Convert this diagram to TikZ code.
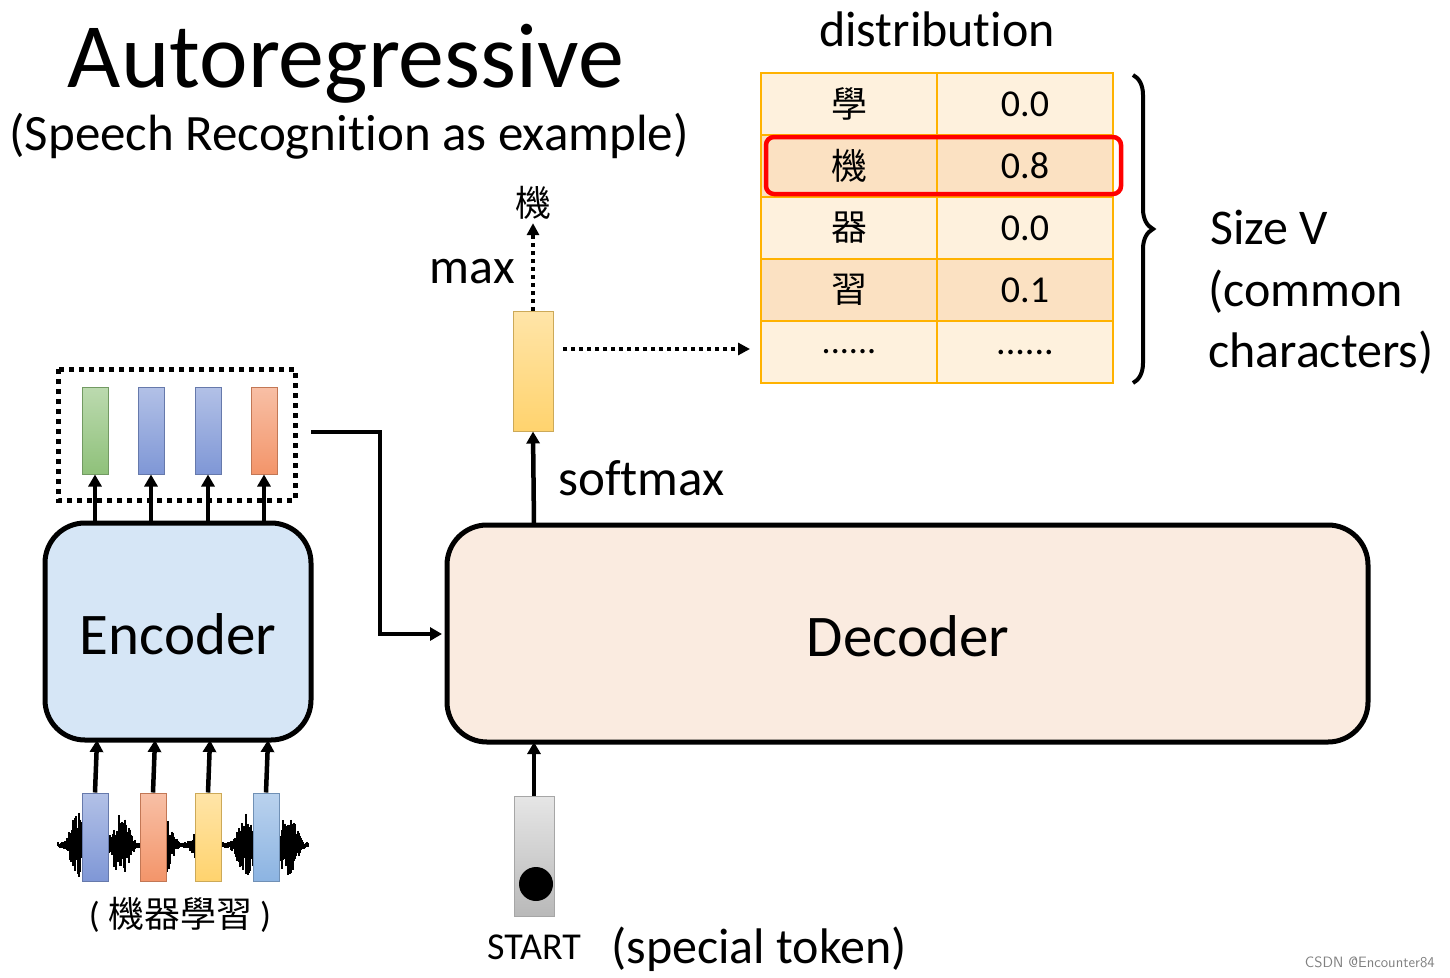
\documentclass[tikz,border=0pt]{standalone}
\usepackage{fontspec}
\setmainfont{Carlito}[Ligatures={NoCommon}]
\newfontfamily\cjk{Noto Sans CJK TC}
\usetikzlibrary{arrows.meta,decorations.pathreplacing}
\newcommand\mydots{......}
\begin{document}
\begin{tikzpicture}[x=1pt,y=-1pt,
  arr/.style={line width=4.5pt,-{Triangle[length=12pt,width=13pt]}},
  darr/.style={line width=4pt,dash pattern=on 4pt off 4pt,-{Triangle[length=12pt,width=12pt]}},
  blk/.style={rounded corners=40pt,line width=5pt},
  bar/.style={draw=#1!80!black,line width=1pt,top color=#1!60!white,bottom color=#1},
  cell/.style={draw=orange!60!yellow,line width=1.5pt},
  txt/.style={inner sep=0pt,anchor=base}]
\useasboundingbox (0,0) rectangle (1450,977);
\definecolor{gr}{HTML}{8FC17A}\definecolor{bl}{HTML}{7F97D6}\definecolor{og}{HTML}{F3956A}
\definecolor{yl}{HTML}{FFD36E}\definecolor{lb}{HTML}{8CB4E2}\definecolor{lt}{HTML}{FEF1DD}\definecolor{dk}{HTML}{FBE1C2}
\definecolor{encf}{HTML}{D6E6F6}\definecolor{decf}{HTML}{FAEBE0}
% titles
\node[txt] (title) at (346,87) {\fontsize{92}{92}\selectfont Autoregressive};
\node[txt] (sub) at (349,150) {\fontsize{51}{51}\selectfont (Speech Recognition as example)};
% encoder / decoder
\draw[blk,fill=encf] (45,523) rectangle (311,740);
\node (enc) at (178,634) {\fontsize{59}{59}\selectfont Encoder};
\draw[blk,fill=decf] (447,525) rectangle (1368,742);
\node (dec) at (908,636) {\fontsize{59}{59}\selectfont Decoder};
% encoder outputs
\draw[line width=5pt,dash pattern=on 5pt off 5pt] (58,369) rectangle (295,500);
\foreach \x/\c [count=\i] in {95/gr,151/bl,208/bl,264/og}{
  \node[bar=\c,minimum width=26pt,minimum height=87pt,inner sep=0pt] (o\i) at (\x,430.5) {};
  \coordinate (ot\i) at (\x,523);
  \draw[arr] (ot\i) -- (o\i.south);}
% waveform
\pgfmathsetseed{7}
\foreach \k in {0,...,250}{
  \pgfmathsetmacro\xx{58+\k*1.0}
  \pgfmathsetmacro\env{3+30*abs(sin(\k*4.3))^3}
  \pgfmathsetmacro\a{\env*(0.3+0.7*rnd)}
  \pgfmathsetmacro\b{\env*(0.3+0.7*rnd)}
  \draw[line width=1.2pt] (\xx,845-\a) -- (\xx,845+\b);}
\foreach \x/\c [count=\i] in {95/bl,153/og,208/yl,266/lb}{
  \node[bar=\c,minimum width=26pt,minimum height=88pt,inner sep=0pt] (in\i) at (\x,837) {};
  \coordinate (et\i) at (\x+2,740);
  \draw[arr] (in\i.north) -- (et\i);}
\node (lab) at (180,915) {\fontsize{36}{36}\selectfont ( {\cjk 機器學習} )};
% connector encoder -> decoder
\coordinate (c1) at (311,432);
\coordinate (c2) at (442,634);
\draw[line width=4.5pt,-{Triangle[length=12pt,width=13pt]}] (c1) -| (380,634) -- (c2);
% decoder output
\node[bar=yl,minimum width=40pt,minimum height=120pt,inner sep=0pt] (ybar) at (533,371) {};
\draw[arr] (534,525) -- (ybar.south);
\node[txt,anchor=base west] (sm) at (558,495) {\fontsize{51}{51}\selectfont softmax};
\node (ki) at (533,203) {\fontsize{36}{36}\selectfont\cjk 機};
\draw[darr] (ybar.north) -- (ki.south);
\node[txt,anchor=base east] (mx) at (515,283) {\fontsize{50}{50}\selectfont max};
\coordinate (tl) at (750,349);
\draw[darr] (563,349) -- (tl);
% table
\foreach \r/\a/\b/\f [count=\i] in {0/{\cjk 學}/0.0/lt,1/{\cjk 機}/0.8/dk,2/{\cjk 器}/0.0/lt,3/{\cjk 習}/0.1/dk,4/\mydots/\mydots/lt}{
  \pgfmathsetmacro\y{73+62*\r}
  \draw[cell,fill=\f] (761,\y) rectangle (937,\y+62);
  \draw[cell,fill=\f] (937,\y) rectangle (1113,\y+62);
  \node (ca\i) at (849,\y+31) {\fontsize{36}{36}\selectfont \a};
  \node (cb\i) at (1025,\y+31) {\fontsize{38}{38}\selectfont \b};}
\draw[red,line width=4.5pt,rounded corners=8pt] (766,137) rectangle (1121,194);
\node[txt] (dist) at (937,46) {\fontsize{50}{50}\selectfont distribution};
\draw[line width=4pt,decorate,decoration={brace,amplitude=20pt}] (1133,75) -- (1133,383);
\node[txt,anchor=base west] (sz) at (1210,244) {\fontsize{50}{50}\selectfont Size V};
\node[txt,anchor=base west] (cm) at (1208,306) {\fontsize{50}{50}\selectfont (common};
\node[txt,anchor=base west] (ch) at (1208,367) {\fontsize{50}{50}\selectfont characters)};
% start token
\node[draw=gray!70,line width=1pt,top color=gray!20,bottom color=gray!55,minimum width=40pt,minimum height=120pt,inner sep=0pt] (st) at (534,856) {};
\fill (536,884) circle (17pt);
\draw[arr] (st.north) -- (534,742);
\node[txt] (stt) at (534,959) {\fontsize{38}{38}\selectfont START};
\node[txt] (spt) at (759,963) {\fontsize{50}{50}\selectfont (special token)};
\node[txt,anchor=base east,gray] (wm) at (1435,967) {\fontsize{15}{15}\selectfont\sffamily CSDN @Encounter84};
\end{tikzpicture}
\end{document}
